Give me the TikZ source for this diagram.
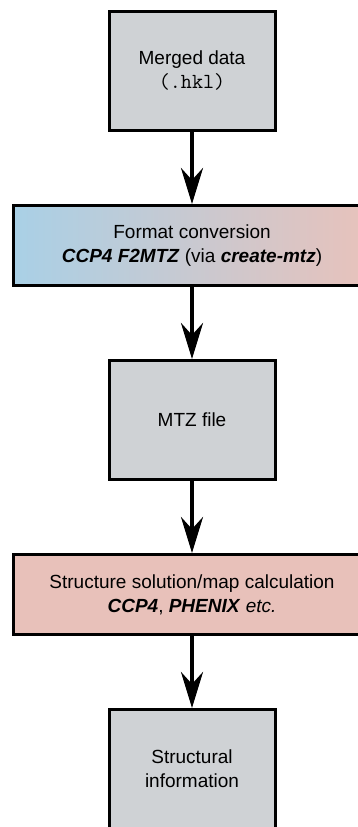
\documentclass[tikz,border=0pt]{standalone}
\usepackage{fontspec}
\setmainfont{Liberation Sans}
\usetikzlibrary{positioning, arrows.meta}
\definecolor{boxgrey}{HTML}{CFD2D5}
\definecolor{convblue}{HTML}{A9D0E6}
\definecolor{convmid}{HTML}{CBCFD6}
\definecolor{convpink}{HTML}{E8C2BB}
\definecolor{solvepink}{HTML}{E8C1BA}
\newcommand{\filext}[1]{{\fontsize{21.5}{24}\selectfont\ttfamily #1}}
\tikzset{
	box/.style={draw, line width=3pt, fill=boxgrey, minimum width=166pt, minimum height=119pt, align=center, font=\fontsize{19}{24}\selectfont},
	widebox/.style={box, minimum width=357pt, minimum height=80pt},
	arrow/.style={line width=4pt, -{Stealth[length=36pt, width=22pt, inset=12pt]}},
}
\begin{document}
\begin{tikzpicture}[node distance=72pt]
			\clip (0pt,0pt) rectangle (358pt,-827pt);
			\node[box] (merged) at (192pt,-71pt) {Merged data\\\filext{(.hkl)}};
			\node[widebox, below=of merged, left color=convblue, middle color=convmid, right color=convpink] (convert) {Format conversion\\\textbf{\textit{CCP4 F2MTZ}} (via \textbf{\textit{create-mtz}})};
			\node[box, below=of convert] (mtz) {MTZ file};
			\node[widebox, below=of mtz, fill=solvepink] (solve) {Structure solution/map calculation\\\textbf{\textit{CCP4}}, \textbf{\textit{PHENIX}} \textit{etc.}};
			\node[box, below=of solve] (info) {Structural\\information};

			\draw[arrow] (merged.south) -- (convert.north);
			\draw[arrow] (convert.south) -- (mtz.north);
			\draw[arrow] (mtz.south) -- (solve.north);
			\draw[arrow] (solve.south) -- (info.north);
		\end{tikzpicture}
\end{document}
